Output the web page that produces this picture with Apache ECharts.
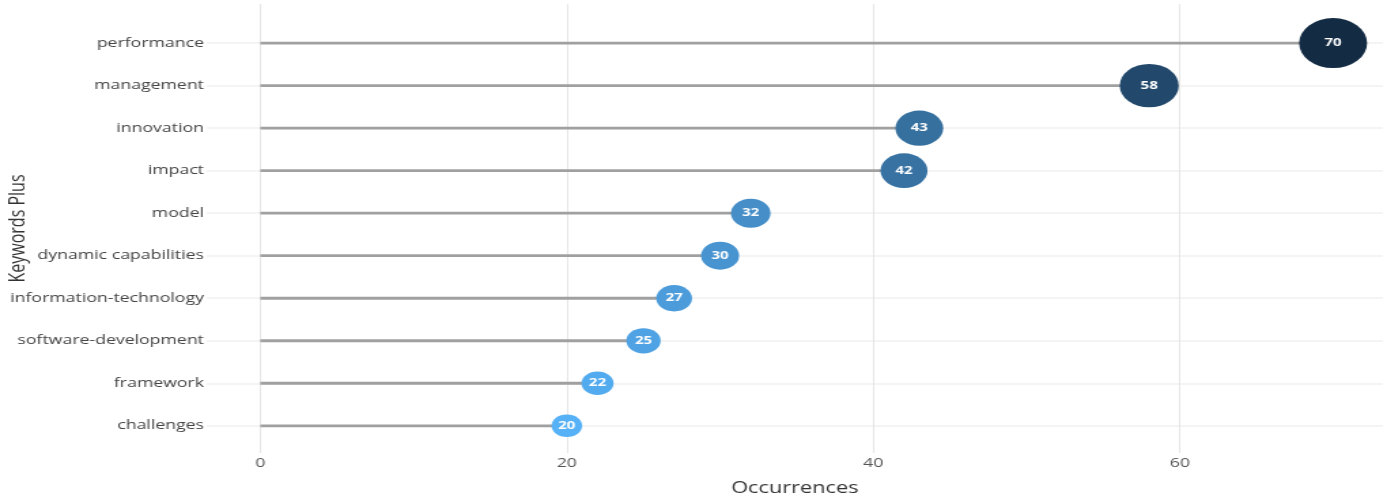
<!DOCTYPE html>
<html><head><meta charset="utf-8">
<script src="https://cdn.jsdelivr.net/npm/echarts@6/dist/echarts.min.js"></script>
<style>
html,body{margin:0;padding:0;overflow:hidden;background:#fff}
#chart{width:1020px;height:501px;transform:scaleX(1.359804);transform-origin:0 0}
</style>
</head><body><div id="chart"></div>
<script>
// bottom to top
const keywords = ['challenges','framework','software-development','information-technology','dynamic capabilities','model','impact','innovation','management','performance'];
const occurrences = [20,22,25,27,30,32,42,43,58,70];
const xTicks = [0,20,40,60];
const yTicks = keywords.map((k,i)=>i);

// ggplot-like Lab interpolation between low and high colours
function hex2rgb(h){h=h.replace('#','');return [0,2,4].map(i=>parseInt(h.substr(i,2),16)/255);}
function lin(c){return c<=0.04045?c/12.92:Math.pow((c+0.055)/1.055,2.4);}
function delin(c){return c<=0.0031308?12.92*c:1.055*Math.pow(c,1/2.4)-0.055;}
const W=[0.95047,1,1.08883];
function f(t){return t>0.008856?Math.cbrt(t):7.787*t+16/116;}
function finv(t){return t>0.206893?t*t*t:(t-16/116)/7.787;}
function toLab(hex){const [r,g,b]=hex2rgb(hex).map(lin);
 const X=(0.4124*r+0.3576*g+0.1805*b)/W[0],Y=(0.2126*r+0.7152*g+0.0722*b)/W[1],Z=(0.0193*r+0.1192*g+0.9505*b)/W[2];
 return [116*f(Y)-16,500*(f(X)-f(Y)),200*(f(Y)-f(Z))];}
function fromLab(L){const fy=(L[0]+16)/116,fx=fy+L[1]/500,fz=fy-L[2]/200;
 const X=finv(fx)*W[0],Y=finv(fy)*W[1],Z=finv(fz)*W[2];
 const r=3.2406*X-1.5372*Y-0.4986*Z,g=-0.9689*X+1.8758*Y+0.0415*Z,b=0.0557*X-0.2040*Y+1.0570*Z;
 return '#'+[r,g,b].map(c=>{c=Math.round(Math.min(1,Math.max(0,delin(c)))*255);return c.toString(16).padStart(2,'0');}).join('');}
const lowLab=toLab('#56B1F7'), highLab=toLab('#132B43');
const colorStops=[];
for(let i=0;i<=10;i++){const t=i/10;colorStops.push(fromLab(lowLab.map((v,k)=>v+(highLab[k]-v)*t)));}

const points = occurrences.map((v,i)=>[v,i]);
const font = '"Open Sans", sans-serif';
const chart = echarts.init(document.getElementById('chart'));
chart.setOption({
  animation:false,
  backgroundColor:'#fff',
  grid:{left:152,right:3,top:4,bottom:48,containLabel:false,outerBoundsMode:'none'},
  visualMap:{type:'continuous',show:false,min:20,max:70,dimension:0,seriesIndex:1,inRange:{color:colorStops}},
  xAxis:{type:'value',min:-3.5,max:73.25,
    name:'Occurrences',nameLocation:'middle',nameGap:27,nameMoveOverlap:false,
    nameTextStyle:{fontSize:16,color:'#333',fontFamily:font},
    axisLine:{show:false},
    axisTick:{show:false,customValues:xTicks},
    axisLabel:{customValues:xTicks,fontSize:13,color:'#555',margin:4,fontFamily:font},
    splitLine:{show:true,lineStyle:{color:'#e6e6e6',width:1}}},
  yAxis:{type:'value',min:-0.64,max:9.92,
    name:'Keywords Plus',nameLocation:'middle',nameGap:131,nameMoveOverlap:false,
    nameTextStyle:{fontSize:16,color:'#333',fontFamily:font},
    axisLine:{show:false},
    axisTick:{show:false,customValues:yTicks},
    axisLabel:{customValues:yTicks,formatter:v=>keywords[Math.round(v)],fontSize:13,color:'#444',margin:2,fontFamily:font},
    splitLine:{show:true,lineStyle:{color:'#f0f0f0',width:1.5}}},
  series:[
    {type:'custom',data:points,encode:{x:0,y:1},z:2,
     renderItem:(params,api)=>{
       const v=api.value(0),y=api.value(1);
       const p0=api.coord([0,y]),p1=api.coord([v,y]);
       return {type:'line',shape:{x1:p0[0],y1:p0[1],x2:p1[0],y2:p1[1]},style:{stroke:'#a0a0a0',lineWidth:2.8}};
     }},
    {type:'scatter',data:points,z:3,
     symbol:'circle',
     symbolSize:d=>22.5+(d[0]-20)*0.55,
     itemStyle:{opacity:1},
     label:{show:true,position:'inside',formatter:p=>p.value[0],color:'#fff',fontWeight:'bold',fontSize:11,fontFamily:font}}
  ]
});
</script>
</body></html>
